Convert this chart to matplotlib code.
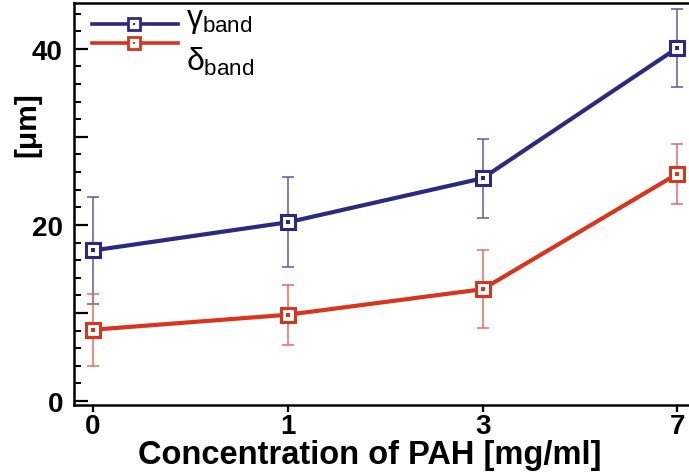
import matplotlib
matplotlib.use("Agg")
import matplotlib.pyplot as plt
from matplotlib.lines import Line2D
from matplotlib.ticker import MultipleLocator, FixedLocator

# Band widths versus PAH concentration
concentrations = ["0", "1", "3", "7"]
gamma_band = [17.1, 20.3, 25.3, 40.1]
gamma_err = [6.1, 5.1, 4.5, 4.4]
delta_band = [8.1, 9.8, 12.7, 25.8]
delta_err = [4.1, 3.4, 4.4, 3.4]

BLUE = "#2c2a80"
BLUE_ERR = "#5c5aa6"
RED = "#d8341e"
RED_ERR = "#e46a6a"

plt.rcParams["font.family"] = ["Liberation Sans", "DejaVu Sans"]
plt.rcParams["mathtext.fontset"] = "custom"
plt.rcParams["mathtext.rm"] = "Liberation Sans"
plt.rcParams["mathtext.it"] = "Liberation Sans"

fig = plt.figure(figsize=(6.89, 4.77), dpi=100)
ax = fig.add_axes([74 / 689, 71 / 477, (691 - 74) / 689, (473 - 71) / 477])

xpos = list(range(len(concentrations)))


def draw_series(y, err, color, ecolor):
    ax.errorbar(xpos, y, yerr=err, fmt="none", ecolor=ecolor,
                elinewidth=1.1, capsize=4.5, capthick=1.1, zorder=2)
    ax.plot(xpos, y, color=color, lw=3.0, zorder=3)
    ax.plot(xpos, y, ls="none", marker="s", ms=10, mfc="white",
            mec=color, mew=2.2, zorder=4)
    ax.plot(xpos, y, ls="none", marker="s", ms=2.2, mfc=color,
            mec=color, mew=0, zorder=5)


draw_series(gamma_band, gamma_err, BLUE, BLUE_ERR)
draw_series(delta_band, delta_err, RED, RED_ERR)

ax.set_xlim(-0.098, 3.07)
ax.set_ylim(-0.45, 45.2)

ax.set_xticks(xpos)
ax.set_xticklabels(concentrations)
ax.yaxis.set_major_locator(FixedLocator([0, 10, 20, 30, 40]))
ax.set_yticklabels(["0", "", "20", "", "40"])
ax.yaxis.set_minor_locator(MultipleLocator(2))

ax.tick_params(axis="y", which="major", direction="in", length=10, width=1.6,
               labelsize=20, pad=8)
ax.tick_params(axis="y", which="minor", direction="in", length=5, width=1.4)
ax.tick_params(axis="x", which="major", direction="out", length=5, width=1.6,
               labelsize=20, pad=1)
for lab in ax.get_xticklabels() + ax.get_yticklabels():
    lab.set_fontweight("bold")

for side in ["left", "bottom", "top", "right"]:
    ax.spines[side].set_linewidth(1.8)

ax.set_xlabel("Concentration of PAH [mg/ml]", fontsize=23.5,
              fontweight="bold")
ax.xaxis.set_label_coords(0.48, -0.085)
fig.text(27 / 689, 1 - 125 / 477, "[\u03bcm]", rotation=90, fontsize=21.5,
         fontweight="bold", ha="center", va="center")

# Legend drawn in axes-fraction coordinates
tr = ax.transAxes
legend_rows = [
    (BLUE, r"$\gamma_{\mathrm{band}}$", 0.948, 0.957),
    (RED, r"$\delta_{\mathrm{band}}$", 0.900, 0.855),
]
for color, label, yline, ytext in legend_rows:
    ax.add_line(Line2D([0.029, 0.168], [yline, yline], transform=tr,
                       color=color, lw=2.6, clip_on=False))
    ax.add_line(Line2D([0.098], [yline], transform=tr, ls="none", marker="s",
                       ms=9, mfc="white", mec=color, mew=2.0))
    ax.add_line(Line2D([0.098], [yline], transform=tr, ls="none", marker="s",
                       ms=2, mfc=color, mec=color, mew=0))
    ax.text(0.182, ytext, label, transform=tr, fontsize=23, va="center",
            ha="left", color="black")

fig.savefig("out.png", dpi=100)
